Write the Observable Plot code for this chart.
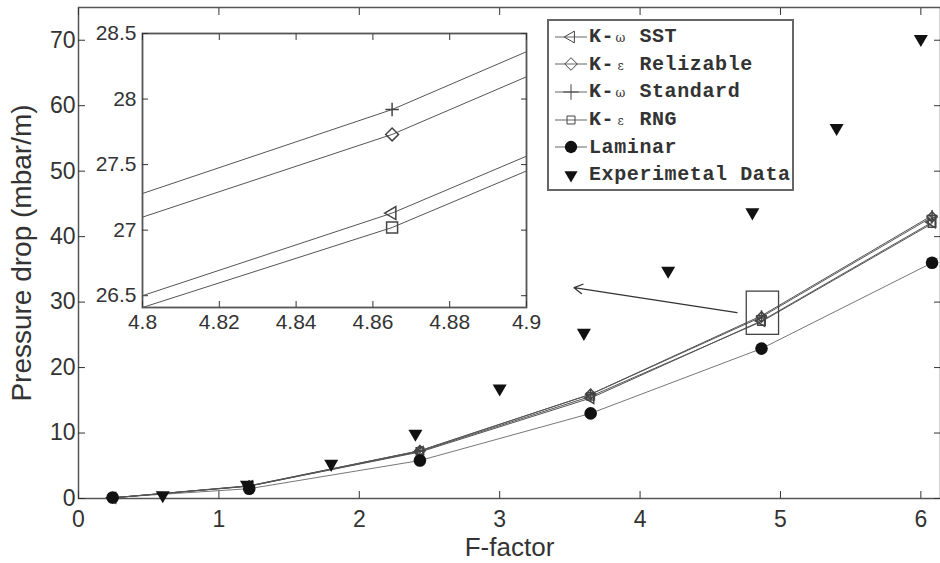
<!DOCTYPE html>
<html><head><meta charset="utf-8">
<script src="https://cdn.jsdelivr.net/npm/d3@7"></script>
<script src="https://cdn.jsdelivr.net/npm/@observablehq/plot@0.6"></script>
<style>
body{margin:0;background:#fff;}
#wrap{position:relative;width:940px;height:563px;overflow:hidden;font-family:"Liberation Sans",Arial,sans-serif;}
#main,#inset{position:absolute;}
#main{left:0;top:0;}
#inset{left:82px;top:22px;}
#main g[aria-label="x-axis label"] text{font-size:26px;}
#main g[aria-label="y-axis label"] text{font-size:28px;}
#legend{position:absolute;left:547px;top:19px;width:247px;height:172px;border:2px solid #666;box-sizing:border-box;background:#fff;
  font-family:"Liberation Mono","Courier New",monospace;font-weight:bold;font-size:20px;letter-spacing:0.6px;color:#333;padding-top:2px;}
.row{height:27.6px;display:flex;align-items:center;white-space:pre;}
.row svg{margin-left:6px;margin-right:2px;flex:none;}
.g{display:inline-block;width:12.6px;font-family:"DejaVu Serif",serif;font-size:12px;font-weight:normal;text-align:center;letter-spacing:0;}
</style></head>
<body>
<div id="wrap">
  <div id="main"></div>
  <div id="inset"></div>
  <div id="legend"></div>
</div>
<script>
// ---- data ----
const xModel = [0.243, 1.216, 2.432, 3.648, 4.865, 6.08];
const sst        = [0.1, 1.90, 7.10, 15.34, 27.13, 42.20];
const realizable = [0.1, 1.92, 7.30, 15.92, 27.73, 43.00];
const standard   = [0.1, 1.95, 7.30, 15.93, 27.92, 43.23];
const rng        = [0.1, 1.88, 7.20, 15.60, 27.02, 42.00];
const laminar    = [0.15, 1.5, 5.8, 13.0, 22.9, 36.0];
const xExp    = [0.6, 1.2, 1.8, 2.4, 3.0, 3.6, 4.2, 4.8, 5.4, 6.0];
const expData = [0.5, 2.1, 5.3, 9.9, 16.8, 25.3, 34.8, 43.7, 56.6, 70.2];
const xTicks = [0, 1, 2, 3, 4, 5, 6];
const yTicks = [0, 10, 20, 30, 40, 50, 60, 70];
const insetXTicks = [4.8, 4.82, 4.84, 4.86, 4.88, 4.9];
const insetYTicks = [26.5, 27, 27.5, 28, 28.5];
const zoomBox = [{x1: 4.76, x2: 4.99, y1: 25.0, y2: 31.6}];
const arrowSpec = [{x1: 4.69, y1: 28.4, x2: 3.53, y2: 32.2}];
const legendLabels = [["K-", "ω", " SST"], ["K-", "ε", " Relizable"], ["K-", "ω", " Standard"], ["K-", "ε", " RNG"], ["Laminar"], ["Experimetal Data"]];

const rows = ys => xModel.map((x, i) => ({x, y: ys[i]}));
const expRows = xExp.map((x, i) => ({x, y: expData[i]}));

const lineStroke = "#555";
const mk = "#444";
const fmt = d3.format("~g");

function modelMarks(r, clip) {
  const c = {clip};
  return [
    Plot.line(rows(laminar), {x: "x", y: "y", stroke: "#777", strokeWidth: 1, ...c}),
    Plot.line(rows(sst), {x: "x", y: "y", stroke: lineStroke, strokeWidth: 1, ...c}),
    Plot.line(rows(realizable), {x: "x", y: "y", stroke: lineStroke, strokeWidth: 1, ...c}),
    Plot.line(rows(standard), {x: "x", y: "y", stroke: lineStroke, strokeWidth: 1, ...c}),
    Plot.line(rows(rng), {x: "x", y: "y", stroke: lineStroke, strokeWidth: 1, ...c}),
    Plot.dot(rows(sst), {x: "x", y: "y", symbol: "triangle", rotate: -90, r: r.tri, fill: "none", stroke: mk, ...c}),
    Plot.dot(rows(realizable), {x: "x", y: "y", symbol: "diamond2", r: r.dia, fill: "none", stroke: mk, ...c}),
    Plot.dot(rows(standard), {x: "x", y: "y", symbol: "plus", r: r.plus, fill: "none", stroke: mk, ...c}),
    Plot.dot(rows(rng), {x: "x", y: "y", symbol: "square", r: r.sq, fill: "none", stroke: mk, ...c})
  ];
}

const main = Plot.plot({
  width: 940, height: 563,
  marginLeft: 78, marginRight: 0, marginTop: 7, marginBottom: 65,
  x: {domain: [0, 6.14]},
  y: {domain: [0, 75]},
  style: {fontSize: "23px", fontFamily: "Liberation Sans, Arial, sans-serif", color: "#333", background: "transparent"},
  marks: [
    Plot.frame({stroke: "#555", strokeWidth: 1.5}),
    Plot.axisX(xTicks, {anchor: "bottom", tickSize: -7, tickPadding: 19, tickFormat: fmt, label: "F-factor", labelAnchor: "center", labelOffset: 57, labelArrow: "none"}),
    Plot.axisX(xTicks, {anchor: "top", tickSize: -7, tickFormat: () => "", label: null}),
    Plot.axisY(yTicks, {anchor: "left", tickSize: -7, tickPadding: 10, tickFormat: fmt, label: "Pressure drop (mbar/m)", labelAnchor: "center", labelOffset: 67, labelArrow: "none"}),
    Plot.axisY(yTicks, {anchor: "right", tickSize: -7, tickFormat: () => "", label: null}),
    ...modelMarks({tri: 4.0, dia: 4.6, plus: 3.6, sq: 4.2}, false),
    Plot.dot(rows(laminar), {x: "x", y: "y", r: 6.3, fill: "#111", stroke: "none"}),
    Plot.dot(expRows, {x: "x", y: "y", symbol: "triangle", rotate: 180, r: 5.2, fill: "#111", stroke: "none"}),
    Plot.rect(zoomBox, {x1: "x1", x2: "x2", y1: "y1", y2: "y2", fill: "none", stroke: "#444", strokeWidth: 1.3}),
    Plot.arrow(arrowSpec, {x1: "x1", y1: "y1", x2: "x2", y2: "y2", stroke: "#333", strokeWidth: 1.3, headLength: 11})
  ]
});
document.getElementById("main").append(main);

const inset = Plot.plot({
  width: 460, height: 320,
  marginLeft: 60, marginRight: 16, marginTop: 11, marginBottom: 35,
  x: {domain: [4.8, 4.9]},
  y: {domain: [26.41, 28.5]},
  style: {fontSize: "21px", fontFamily: "Liberation Sans, Arial, sans-serif", color: "#333", background: "transparent"},
  marks: [
    Plot.frame({stroke: "#555", strokeWidth: 1.8}),
    Plot.axisX(insetXTicks, {anchor: "bottom", tickSize: -6, tickPadding: 13, tickFormat: fmt, label: null}),
    Plot.axisX(insetXTicks, {anchor: "top", tickSize: -6, tickFormat: () => "", label: null}),
    Plot.axisY(insetYTicks, {anchor: "left", tickSize: -6, tickPadding: 12, tickFormat: fmt, label: null}),
    Plot.axisY(insetYTicks, {anchor: "right", tickSize: -6, tickFormat: () => "", label: null}),
    ...modelMarks({tri: 4.8, dia: 5.8, plus: 4.4, sq: 6.2}, true)
  ]
});
document.getElementById("inset").append(inset);

// ---- legend ----
function sym(type, size, rot, fill) {
  return `<path d="${d3.symbol(type, size)()}" transform="translate(16,10) rotate(${rot})" fill="${fill}" stroke="${fill === "none" ? "#444" : "none"}" stroke-width="1"/>`;
}
const legendSyms = [
  [true, sym(d3.symbolTriangle, 60, -90, "none")],
  [true, sym(d3.symbolDiamond2, 100, 0, "none")],
  [true, sym(d3.symbolPlus, 80, 0, "none")],
  [true, sym(d3.symbolSquare, 64, 0, "none")],
  [true, sym(d3.symbolCircle, 120, 0, "#111")],
  [false, sym(d3.symbolTriangle, 75, 180, "#111")]
];
const leg = document.getElementById("legend");
legendLabels.forEach((parts, i) => {
  const [hasLine, s] = legendSyms[i];
  const row = document.createElement("div");
  row.className = "row";
  const line = hasLine ? `<line x1="0" x2="32" y1="10" y2="10" stroke="#666" stroke-width="1"/>` : "";
  let text;
  if (parts.length === 3) text = `${parts[0]}<span class="g">${parts[1]}</span>${parts[2]}`;
  else text = parts[0];
  row.innerHTML = `<svg width="32" height="20">${line}${s}</svg><span>${text}</span>`;
  leg.append(row);
});
</script>
</body></html>
